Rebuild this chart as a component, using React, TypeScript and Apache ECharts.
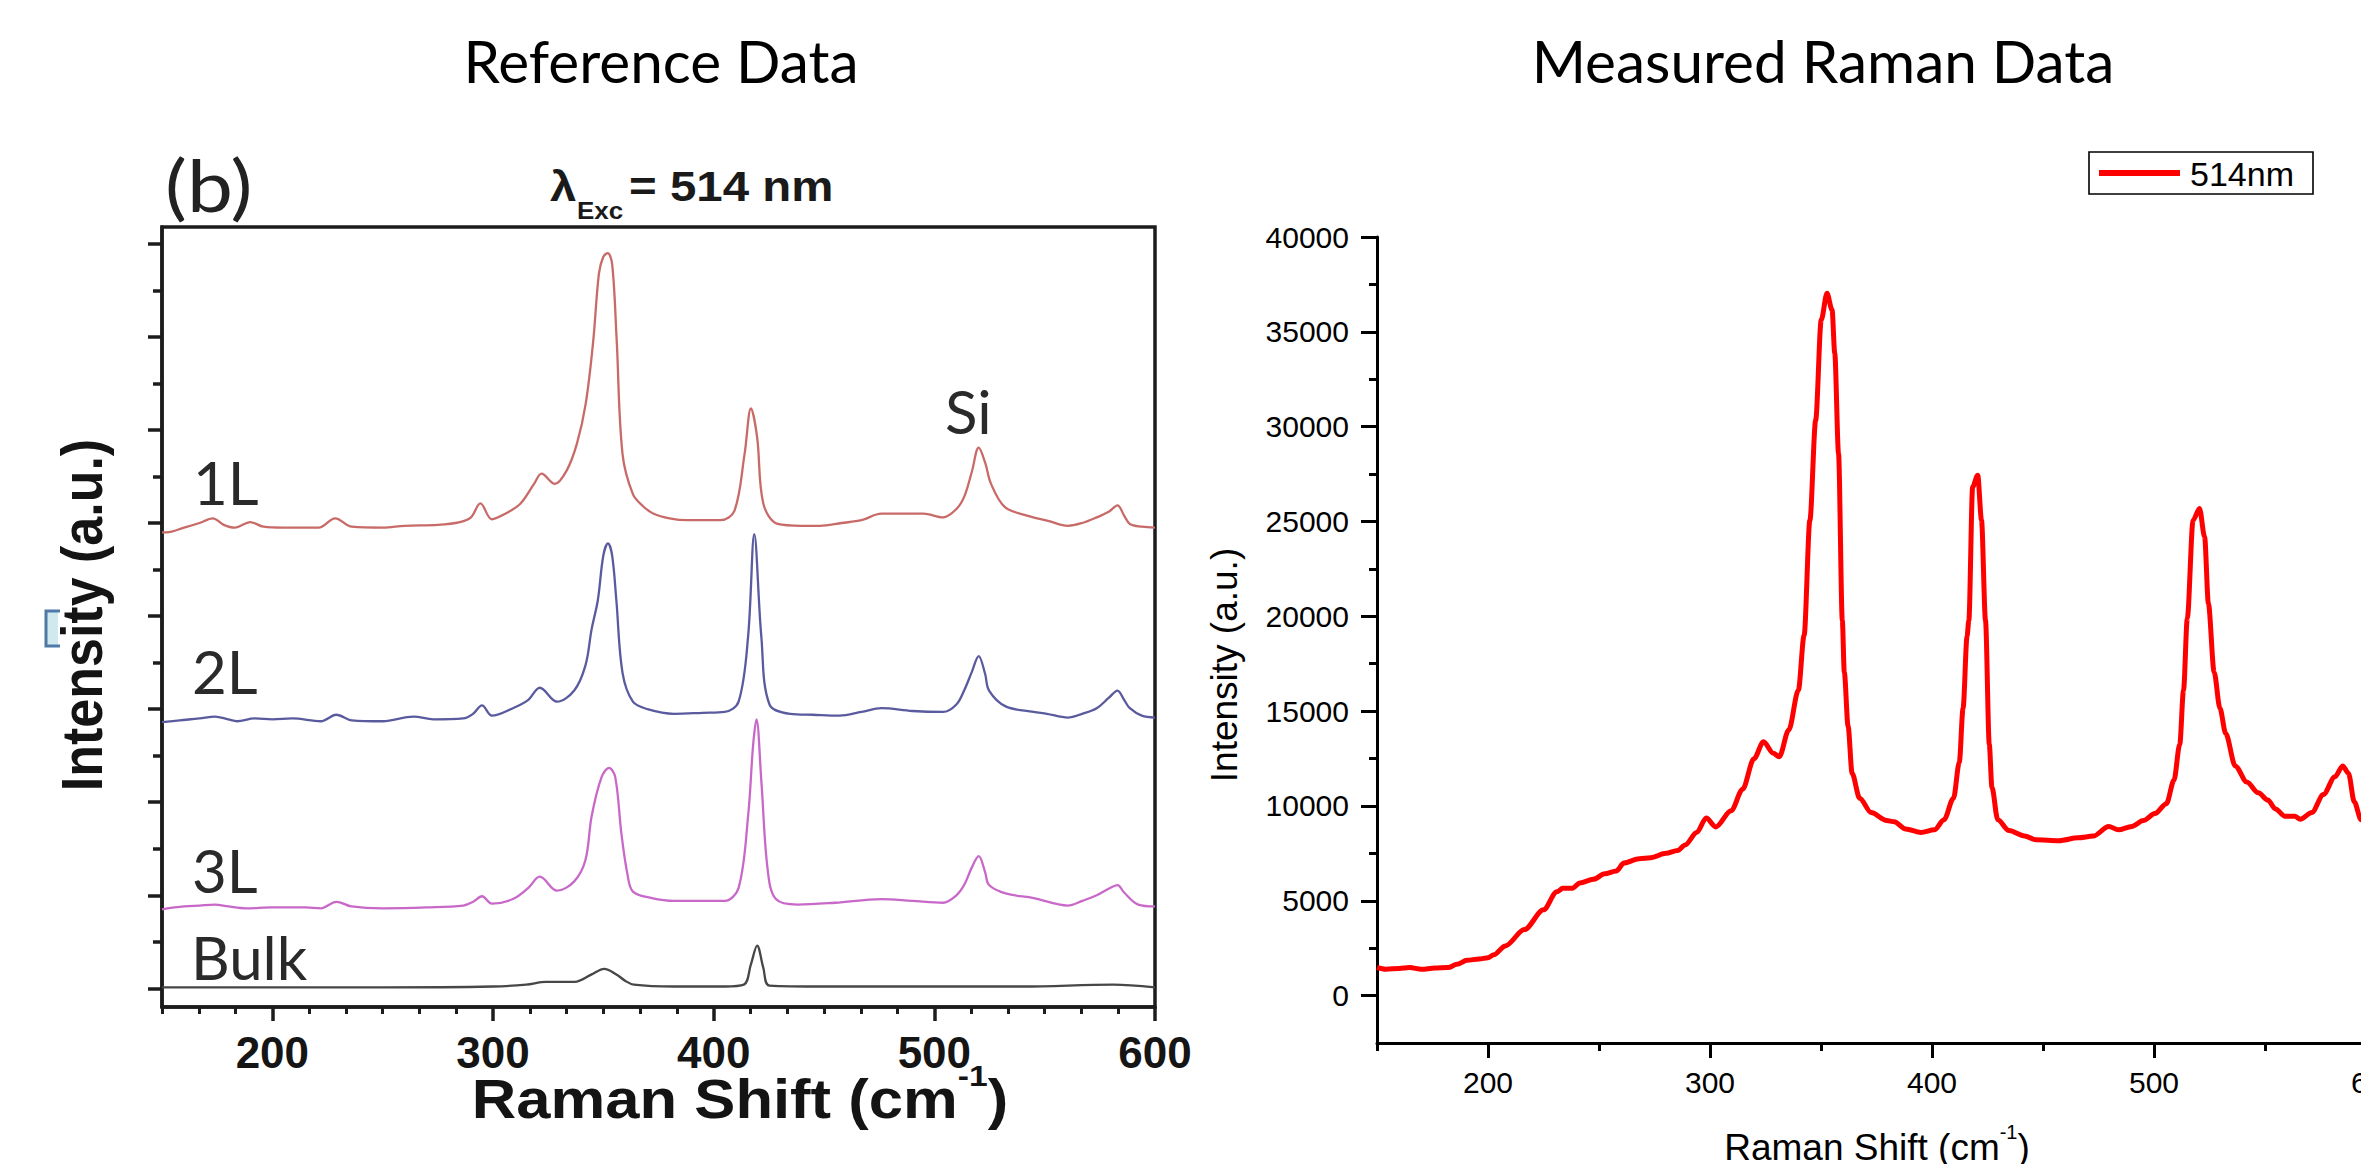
import React, { useEffect, useRef } from "react";
import * as echarts from "echarts";

type Pt = [number, number];

// ---------------- Left panel: reference data (offset spectra) ----------------
const refXTickValues = [200, 300, 400, 500, 600];
const refXMinorValues = [150, 166.67, 183.33, 216.67, 233.33, 250, 266.67, 283.33, 316.67, 333.33, 350, 366.67, 383.33, 416.67, 433.33, 450, 466.67, 483.33, 516.67, 533.33, 550, 566.67, 583.33];
const refYTickValues = [0, 1, 2, 3, 4, 5, 6, 7, 8];
const refYMinorValues = [0.5, 1.5, 2.5, 3.5, 4.5, 5.5, 6.5, 7.5];

const spectrum1L: Pt[] = [
  [150, 4.9], [152, 4.9], [160, 4.95], [167, 5.0], [173, 5.05], [178, 4.98], [183, 4.95], [190, 5.01], [196, 4.96],
  [205, 4.95], [215, 4.95], [221, 4.95], [228.5, 5.05], [236, 4.96], [250, 4.95], [260, 4.97], [275, 4.98], [285, 5.01],
  [290, 5.06], [294.3, 5.21], [299.5, 5.04], [305.6, 5.1], [312.5, 5.21], [318.6, 5.42], [322, 5.53], [328, 5.42],
  [333.3, 5.56], [338, 5.85], [342, 6.28], [345.4, 6.95], [348, 7.68], [350, 7.86], [352, 7.9], [354, 7.78], [356, 6.99],
  [358.7, 5.74], [363.4, 5.31], [368, 5.18], [372.8, 5.1], [380, 5.05], [388, 5.03], [403, 5.03], [409.4, 5.13],
  [414, 5.74], [416.9, 6.23], [419.7, 5.92], [422.5, 5.21], [429, 4.99], [440, 4.97], [448, 4.97], [458, 5.0],
  [467, 5.03], [476, 5.1], [495, 5.1], [504, 5.06], [510, 5.15], [513.5, 5.28], [517, 5.55], [520.1, 5.81],
  [523, 5.65], [525.7, 5.42], [532, 5.17], [542, 5.08], [552, 5.02], [560.5, 4.97], [567, 5.0], [573.6, 5.06],
  [579, 5.12], [583, 5.19], [586, 5.08], [588.6, 4.99], [594, 4.96], [600, 4.95],
];

const spectrum2L: Pt[] = [
  [150, 2.86], [158, 2.88], [167, 2.9], [174, 2.92], [180, 2.89], [184, 2.87], [192, 2.9], [200, 2.89], [209, 2.9],
  [222, 2.87], [229, 2.94], [236, 2.88], [250, 2.87], [264, 2.92], [273, 2.89], [286.5, 2.9], [291, 2.95], [295, 3.04],
  [299.5, 2.93], [309, 3.01], [316, 3.1], [321.2, 3.23], [329, 3.08], [336.8, 3.2], [341.9, 3.47], [344.7, 3.86],
  [347.5, 4.17], [350, 4.65], [352.1, 4.78], [354, 4.65], [355.9, 4.17], [358.7, 3.39], [363.4, 3.08], [370, 3.0],
  [382, 2.95], [395, 2.96], [405, 2.97], [411.3, 3.08], [415.6, 3.78], [418.4, 4.88], [421.6, 3.78], [425.3, 3.05],
  [434.7, 2.95], [445, 2.94], [457, 2.93], [467, 2.97], [476, 3.01], [490, 2.98], [504, 2.97], [510, 3.05],
  [513.5, 3.2], [517, 3.4], [520.1, 3.57], [523, 3.38], [524.8, 3.2], [532.3, 3.03], [545, 2.97], [551, 2.95],
  [560.5, 2.91], [567, 2.95], [573.6, 3.01], [579, 3.12], [583, 3.2], [586, 3.1], [588.6, 3.01], [594, 2.93], [600, 2.91],
];

const spectrum3L: Pt[] = [
  [150, 0.85], [160, 0.88], [167, 0.89], [174, 0.9], [180, 0.88], [188, 0.86], [200, 0.87], [215, 0.87], [222, 0.86],
  [229, 0.93], [236, 0.88], [250, 0.86], [270, 0.87], [286.5, 0.89], [291, 0.93], [295, 0.99], [299.5, 0.91],
  [309, 0.96], [316, 1.08], [321.2, 1.2], [329, 1.05], [336.8, 1.15], [341.9, 1.38], [344.7, 1.85], [349.2, 2.27],
  [352.6, 2.37], [355.4, 2.27], [358.2, 1.66], [360.9, 1.23], [363.4, 1.04], [372, 0.97], [382, 0.94], [395, 0.94],
  [405, 0.94], [411.3, 1.08], [415.6, 1.85], [417.9, 2.62], [419.4, 2.89], [421.6, 2.23], [424.5, 1.27], [428.2, 0.96],
  [438, 0.9], [455, 0.92], [476, 0.96], [490, 0.94], [504, 0.92], [510, 1.0], [513.5, 1.11], [517, 1.3], [520.1, 1.42],
  [523, 1.25], [524.8, 1.11], [532.3, 1.02], [545, 0.97], [560.5, 0.89], [567, 0.94], [573.6, 1.0], [579, 1.07],
  [583, 1.11], [586, 1.03], [592.4, 0.9], [600, 0.88],
];

const spectrumBulk: Pt[] = [
  [150, 0.01], [200, 0.01], [250, 0.01], [300, 0.02], [315, 0.04], [324, 0.07], [337, 0.07], [344.7, 0.15],
  [350.4, 0.21], [355.9, 0.15], [360, 0.08], [363.8, 0.04], [382, 0.02], [405, 0.02], [413.7, 0.04], [416.9, 0.26],
  [419.7, 0.46], [422.5, 0.22], [425.3, 0.03], [450, 0.02], [500, 0.02], [540, 0.02], [581, 0.04], [600, 0.01],
];

// ---------------- Right panel: measured Raman data ----------------
const measXTickValues = [200, 300, 400, 500, 600];
const measXMinorValues = [150, 250, 350, 450, 550];
const measYTickValues = [0, 5000, 10000, 15000, 20000, 25000, 30000, 35000, 40000];
const measYMinorValues = [2500, 7500, 12500, 17500, 22500, 27500, 32500, 37500];

const measured514: Pt[] = [
  [150, 1480], [154, 1390], [160, 1430], [164.7, 1480], [170, 1390], [176, 1450], [182, 1480], [186, 1650],
  [190.5, 1860], [196, 1930], [200, 2000], [202.6, 2150], [207.8, 2620], [216.4, 3480], [225, 4520], [231, 5470],
  [233.7, 5660], [238, 5660], [241.4, 5940], [247.4, 6130], [252.6, 6420], [257.8, 6570], [261.2, 6990], [268.1, 7220],
  [273.3, 7270], [280.2, 7500], [285.4, 7650], [288.8, 7940], [294, 8600], [298.3, 9360], [302.6, 8890], [309.5, 9740],
  [314.7, 10880], [319.8, 12490], [324.1, 13380], [328.5, 12780], [331.2, 12590], [335.5, 14010], [339.8, 16100],
  [342.4, 19000], [345, 25070], [347.6, 30340], [350.1, 35620], [352.7, 37030], [355, 36150], [356.2, 33860],
  [357.9, 28590], [359.6, 19790], [360.5, 17050], [362.2, 14200], [364, 11730], [367.4, 10410], [372.6, 9650],
  [379.5, 9230], [383, 9170], [388.1, 8790], [395, 8600], [401.1, 8740], [405.4, 9270], [409.7, 10410], [412.3, 12300],
  [414, 15150], [415.8, 18950], [416.6, 19790], [418.3, 26820], [420.6, 27440], [422.3, 25070], [424.1, 19790],
  [425.8, 13250], [427, 10980], [429.6, 9270], [434.7, 8700], [441.7, 8410], [446.8, 8220], [457.2, 8170],
  [465.8, 8320], [472.7, 8410], [479.6, 8920], [484, 8740], [490, 8920], [495.2, 9230], [500.4, 9600], [505.6, 10120],
  [509, 11350], [511.6, 13250], [513.3, 16100], [515, 19890], [517.6, 25070], [520.5, 25680], [522.8, 24190],
  [524.5, 20670], [527.1, 17050], [529.7, 15150], [532.3, 13820], [536.6, 12110], [541.8, 11260], [547, 10690],
  [551.3, 10310], [554.7, 9840], [559, 9460], [563.4, 9460], [565.9, 9300], [571.1, 9650], [576.3, 10600],
  [581.5, 11540], [585, 12110], [587.6, 11730], [590.2, 10220], [593.3, 9270], [597, 9050],
];

const ARIAL = "'Liberation Sans', Arial, sans-serif";
const CALIBRI = "Lato, 'Open Sans', sans-serif";
const INK = "#1c1c1c";
const plain = (v: number) => String(v);

function text(x: number, y: number, str: string, style: any, extra: any = {}) {
  return {
    type: "text",
    x,
    y,
    silent: true,
    z: 50,
    ...extra,
    style: { text: str, fill: "#111", align: "left", verticalAlign: "middle", ...style },
  };
}

function buildOption(): any {
  const refGrid = { left: 162, top: 227, width: 993, height: 780 };
  const measGrid = { left: 1377, top: 237, width: 999, height: 806 };

  const xAxis: any[] = [
    {
      gridIndex: 0, type: "value", min: 150, max: 600,
      axisLine: { show: true, onZero: false, lineStyle: { color: INK, width: 3.5 } },
      axisTick: { show: true, inside: false, length: 14, customValues: refXTickValues, lineStyle: { color: INK, width: 3.5 } },
      axisLabel: { show: true, customValues: refXTickValues, formatter: plain, margin: 23, fontSize: 44, fontWeight: "bold", fontFamily: ARIAL, color: "#151515" },
      splitLine: { show: false },
    },
    {
      gridIndex: 1, type: "value", min: 150, max: 600,
      axisLine: { show: false, onZero: false },
      axisTick: { show: true, inside: false, length: 7, customValues: refXMinorValues, lineStyle: { color: INK, width: 3 } },
      axisLabel: { show: false },
      splitLine: { show: false },
    },
    {
      gridIndex: 2, type: "value", min: 150, max: 600,
      axisLine: { show: true, onZero: false, lineStyle: { color: "#000", width: 3 } },
      axisTick: { show: true, inside: false, length: 15, customValues: measXTickValues, lineStyle: { color: "#000", width: 3 } },
      axisLabel: { show: true, customValues: measXTickValues, formatter: plain, margin: 24, fontSize: 30, fontFamily: ARIAL, color: "#000" },
      splitLine: { show: false },
    },
    {
      gridIndex: 3, type: "value", min: 150, max: 600,
      axisLine: { show: false, onZero: false },
      axisTick: { show: true, inside: false, length: 8, customValues: measXMinorValues, lineStyle: { color: "#000", width: 3 } },
      axisLabel: { show: false },
      splitLine: { show: false },
    },
  ];

  const yAxis: any[] = [
    {
      gridIndex: 0, type: "value", min: -0.2, max: 8.18,
      axisLine: { show: true, onZero: false, lineStyle: { color: INK, width: 3.5 } },
      axisTick: { show: true, inside: false, length: 14, customValues: refYTickValues, lineStyle: { color: INK, width: 3.5 } },
      axisLabel: { show: false },
      splitLine: { show: false },
    },
    {
      gridIndex: 1, type: "value", min: -0.2, max: 8.18,
      axisLine: { show: false, onZero: false },
      axisTick: { show: true, inside: false, length: 9, customValues: refYMinorValues, lineStyle: { color: INK, width: 3.5 } },
      axisLabel: { show: false },
      splitLine: { show: false },
    },
    {
      gridIndex: 2, type: "value", min: -2500, max: 40000,
      axisLine: { show: true, onZero: false, lineStyle: { color: "#000", width: 3 } },
      axisTick: { show: true, inside: false, length: 16, customValues: measYTickValues, lineStyle: { color: "#000", width: 3 } },
      axisLabel: { show: true, customValues: measYTickValues, formatter: plain, margin: 28, fontSize: 30, fontFamily: ARIAL, color: "#000" },
      splitLine: { show: false },
    },
    {
      gridIndex: 3, type: "value", min: -2500, max: 40000,
      axisLine: { show: false, onZero: false },
      axisTick: { show: true, inside: false, length: 8, customValues: measYMinorValues, lineStyle: { color: "#000", width: 3 } },
      axisLabel: { show: false },
      splitLine: { show: false },
    },
  ];

  const refLine = (name: string, data: Pt[], color: string, width = 2.3) => ({
    name, type: "line", xAxisIndex: 0, yAxisIndex: 0, data,
    showSymbol: false, symbol: "none", smooth: 0.35,
    lineStyle: { color, width }, itemStyle: { color }, silent: true, z: 3,
  });

  const graphic: any[] = [
    // panel titles
    text(661, 60, "Reference Data", { fontSize: 58.5, fontFamily: CALIBRI, fill: "#000", align: "center" }),
    text(1823, 60, "Measured Raman Data", { fontSize: 58.5, fontFamily: CALIBRI, fill: "#000", align: "center" }),
    // left panel annotations
    text(165, 184, "(b)", { fontSize: 72, fontFamily: CALIBRI, fill: "#222" }, { scaleX: 1.14 }),
    text(550, 186, "λ", { fontSize: 42, fontWeight: "bold", fontFamily: ARIAL, fill: "#1a1a1a" }, { scaleX: 1.13 }),
    text(577, 211, "Exc", { fontSize: 23, fontWeight: "bold", fontFamily: ARIAL, fill: "#1a1a1a" }, { scaleX: 1.13 }),
    text(629, 186, "= 514 nm", { fontSize: 42, fontWeight: "bold", fontFamily: ARIAL, fill: "#1a1a1a" }, { scaleX: 1.13 }),
    text(193, 482, "1L", { fontSize: 60, fontFamily: CALIBRI, fill: "#2a2a2a" }),
    text(192, 671, "2L", { fontSize: 60, fontFamily: CALIBRI, fill: "#2a2a2a" }),
    text(192, 870, "3L", { fontSize: 60, fontFamily: CALIBRI, fill: "#2a2a2a" }),
    text(191, 957, "Bulk", { fontSize: 60, fontFamily: CALIBRI, fill: "#2a2a2a" }),
    text(945, 411, "Si", { fontSize: 60, fontFamily: CALIBRI, fill: "#2a2a2a" }),
    // left axis titles
    text(82, 615, "Intensity (a.u.)", { fontSize: 52, fontWeight: "bold", fontFamily: ARIAL, fill: "#141414", align: "center" }, { rotation: Math.PI / 2, scaleY: 1.12 }),
    {
      type: "text", x: 740, y: 1099, silent: true, z: 50, scaleX: 1.12,
      style: {
        text: "{a|Raman Shift (cm}{b|-1}{a|)}", align: "center", verticalAlign: "middle",
        rich: {
          a: { fontSize: 55, fontWeight: "bold", fontFamily: ARIAL, fill: "#141414", lineHeight: 76, verticalAlign: "middle" },
          b: { fontSize: 30, fontWeight: "bold", fontFamily: ARIAL, fill: "#141414", lineHeight: 20, verticalAlign: "top" },
        },
      },
    },
    // scan artifact next to the left y title
    { type: "rect", silent: true, z: 40, shape: { x: 47, y: 612, width: 11, height: 33 }, style: { fill: "#cfe9ee" } },
    { type: "polyline", silent: true, z: 41, shape: { points: [[60, 611], [46, 611], [46, 646], [60, 646]] }, style: { stroke: "#4f7aa8", lineWidth: 3, fill: null } },
    // right axis titles
    text(1224, 665, "Intensity (a.u.)", { fontSize: 37, fontFamily: ARIAL, fill: "#000", align: "center" }, { rotation: Math.PI / 2 }),
    {
      type: "text", x: 1877, y: 1147, silent: true, z: 50,
      style: {
        text: "{a|Raman Shift (cm}{b|-1}{a|)}", align: "center", verticalAlign: "middle",
        rich: {
          a: { fontSize: 37, fontFamily: ARIAL, fill: "#000", lineHeight: 50, verticalAlign: "middle" },
          b: { fontSize: 20, fontFamily: ARIAL, fill: "#000", lineHeight: 20, verticalAlign: "top" },
        },
      },
    },
    // legend box
    { type: "rect", silent: true, z: 45, shape: { x: 2089, y: 152, width: 224, height: 42 }, style: { fill: "#fff", stroke: "#000", lineWidth: 1.6 } },
    { type: "line", silent: true, z: 46, shape: { x1: 2099, y1: 173, x2: 2180, y2: 173 }, style: { stroke: "#ff0000", lineWidth: 6 } },
    text(2190, 174, "514nm", { fontSize: 34, fontFamily: ARIAL, fill: "#000" }),
  ];

  return {
    animation: false,
    backgroundColor: "#ffffff",
    grid: [
      { ...refGrid, show: true, borderColor: INK, borderWidth: 3.5, backgroundColor: "transparent", containLabel: false, outerBoundsMode: "none" },
      { ...refGrid, show: false, containLabel: false, outerBoundsMode: "none" },
      { ...measGrid, show: false, containLabel: false, outerBoundsMode: "none" },
      { ...measGrid, show: false, containLabel: false, outerBoundsMode: "none" },
    ],
    xAxis,
    yAxis,
    series: [
      refLine("1L", spectrum1L, "#c86a68"),
      refLine("2L", spectrum2L, "#5a5a9e"),
      refLine("3L", spectrum3L, "#c868c8"),
      refLine("Bulk", spectrumBulk, "#474747"),
      {
        name: "514nm", type: "line", xAxisIndex: 2, yAxisIndex: 2, data: measured514,
        showSymbol: false, symbol: "none", smooth: 0.3, smoothMonotone: "x", clip: true,
        lineStyle: { color: "#ff0000", width: 5 }, itemStyle: { color: "#ff0000" }, silent: true, z: 3,
      },
    ],
    graphic,
  };
}

export default function App() {
  const ref = useRef<HTMLDivElement>(null);
  useEffect(() => {
    document.body.style.margin = "0";
    document.body.style.overflow = "hidden";
    if (!ref.current) return;
    const chart = echarts.init(ref.current, undefined, { renderer: "svg" });
    chart.setOption(buildOption());
    return () => chart.dispose();
  }, []);
  return <div ref={ref} style={{ width: 2361, height: 1164, background: "#fff" }} />;
}
